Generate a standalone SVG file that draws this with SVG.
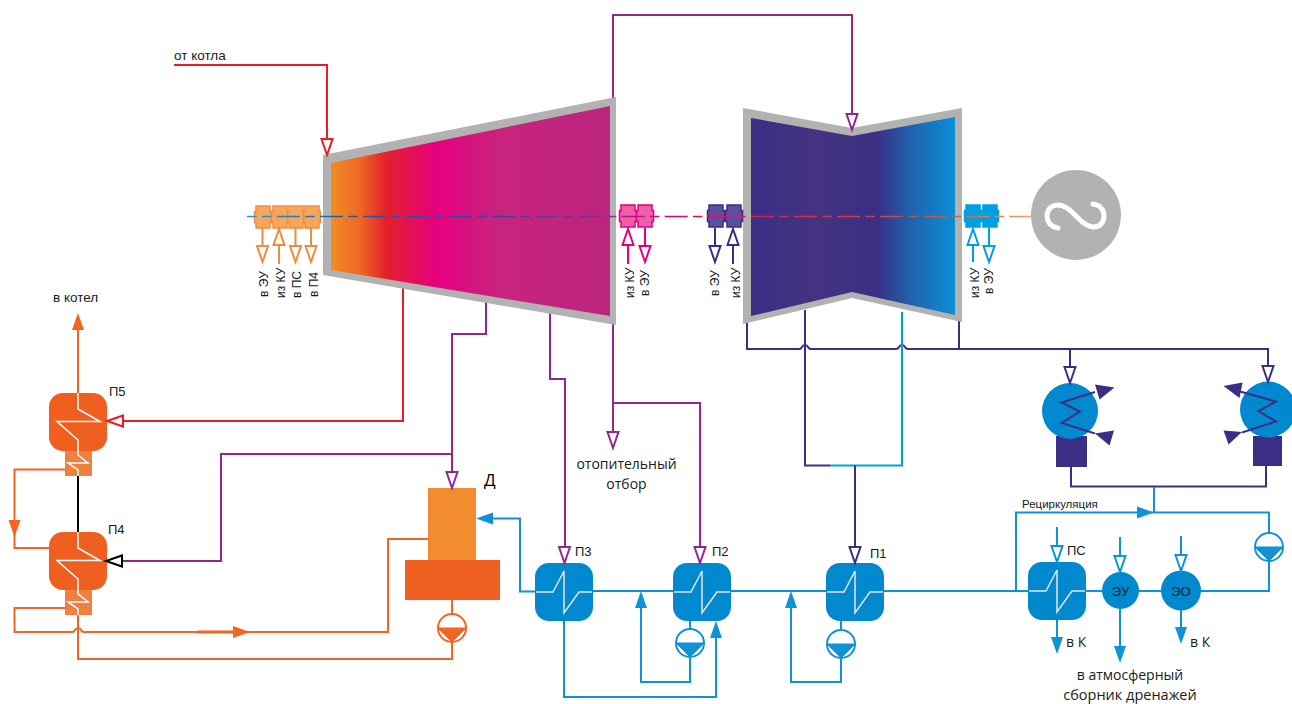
<svg xmlns="http://www.w3.org/2000/svg" xmlns:xlink="http://www.w3.org/1999/xlink" width="1292" height="704" viewBox="0 0 1292 704">
<style>
text{font-family:"Liberation Sans",Arial,sans-serif;font-size:13px;fill:#1a1a1a}
.r{font-size:12px}
.os{font-family:"Open Sans","Noto Sans",sans-serif;font-size:14px}
.l{fill:none;stroke-width:2}
.bl{color:#0f92d6;stroke:#0f92d6}
.pu{color:#93278f;stroke:#93278f}
.or{color:#f26522;stroke:#f26522}
.re{color:#ed1c24;stroke:#ed1c24}
.in{color:#3a2f85;stroke:#3a2f85}
.oa{color:#f08c3c;stroke:#f08c3c}
.ma{color:#e6007e;stroke:#e6007e}
.cy{color:#009fe3;stroke:#009fe3}
.k{color:#000;stroke:#000}
</style>
<defs>
<linearGradient id="hp" gradientUnits="userSpaceOnUse" x1="331" y1="0" x2="610" y2="0">
<stop offset="0" stop-color="#f28c24"/><stop offset=".1" stop-color="#ee6a24"/><stop offset=".2" stop-color="#e3202c"/><stop offset=".38" stop-color="#e6007e"/><stop offset=".6" stop-color="#c8247e"/><stop offset="1" stop-color="#bc247f"/>
</linearGradient>
<linearGradient id="lp" gradientUnits="userSpaceOnUse" x1="751" y1="0" x2="955" y2="0">
<stop offset="0" stop-color="#3a2f85"/><stop offset=".32" stop-color="#443380"/><stop offset=".62" stop-color="#3a2f85"/><stop offset=".78" stop-color="#1f62ac"/><stop offset="1" stop-color="#0a8fd6"/>
</linearGradient>
<linearGradient id="sh" gradientUnits="userSpaceOnUse" x1="247" y1="0" x2="1032" y2="0">
<stop offset="0" stop-color="#1ba0d8"/><stop offset=".12" stop-color="#1b5cb0"/><stop offset=".3" stop-color="#2c46a8"/><stop offset=".46" stop-color="#93278f"/><stop offset=".53" stop-color="#e6007e"/><stop offset=".65" stop-color="#d81c50"/><stop offset=".9" stop-color="#c06040"/><stop offset="1" stop-color="#f4a460"/>
</linearGradient>
<path id="ao" d="M-5.500-16H5.500L0 0Z" fill="#fff" stroke="currentColor" stroke-width="2"/>
<path id="af" d="M-6-17H6L0 0Z" fill="currentColor" stroke="none"/>
<g id="pump"><circle r="14" fill="#fff" stroke="currentColor" stroke-width="2"/><path d="M-14 0H14L0 14Z" fill="currentColor"/></g>
<path id="seal" d="M0-11H14V-5.500H15.500V5.500H14V11H0V5.500H-1.500V-5.500H0Z" stroke-width="1.500"/>
<g id="blhx"><rect width="58" height="58" rx="14" fill="#0089cf"/><path d="M1 29H18L29 8V50L44 29H57" fill="none" stroke="#e6e6e6" stroke-width="1.500"/></g>
<g id="orhx"><rect x="16" y="58" width="27" height="25" fill="#f08040"/><rect width="58" height="58" rx="14" fill="#ee5f20"/><path d="M29 0V16L51 28.500H8L29 47V62L39 70H19L29 77V83" fill="none" stroke="#fff" stroke-width="1.500"/></g>
</defs>

<g id="connectors">
<path class="l re" d="M174 65H327V140"/>
<path class="l pu" d="M613 100V15H852V114"/>
<path class="l re" d="M403 285V421H123"/>
<path class="l pu" d="M486 300V334H452V472"/>
<path class="l pu" d="M452 454H221V561H122"/>
<path class="l pu" d="M550 312V379H565V548"/>
<path class="l pu" d="M613 320V433M613 403H700V548"/>
<path class="l in" d="M747 320V349H799Q801 349 802 347T805 345T808 347T811 349H896Q898 349 899 347T902 345T905 347T908 349H1268V368M959 320V349M1070 349V368"/>
<path class="l in" d="M805 310V465.500H830"/>
<path class="l cy" d="M902 312V465.500H830"/>
<path class="l in" d="M855 465.500V548"/>
<path class="l in" d="M1071 466V486.500H1266V466"/>
<path class="l bl" d="M1154 487V512.500M1016 591V512.500H1269V533M1269 561V591H593"/>
<path class="l bl" d="M535 591.500H520V518.500H490"/>
<path class="l bl" d="M564 620V697H716V634"/>
<path class="l bl" d="M690 620V630M690 657V682H641V606"/>
<path class="l bl" d="M841 620V630M841 657V682H791V606"/>
<path class="l bl" d="M1057 527V547M1120 537V558M1181 536V557M1057 620V640M1120 609V650M1181 610V630"/>
<path class="l or" d="M78 393V328"/>
<path class="l k" d="M78 476V532"/>
<path class="l or" d="M65 469.500H14.500V548H49"/>
<path class="l or" d="M65 608H14.500V632H72Q74 632 75 630T78 628T81 630T84 632H388V539H428"/>
<path class="or" fill="none" stroke-width="3" d="M198 632H236"/>
<path class="l or" d="M78 615V659H452V642M452 600V614"/>
<path class="l oa" d="M262.500 228V247M295.500 228V247M311 228V247M279 244V264"/>
<path class="l ma" d="M628 244V264M645 228V247"/>
<path class="l in" d="M715 228V247M733 244V264"/>
<path class="l cy" d="M973 244V262M989 228V246"/>
</g>

<g id="hp-turbine"><path d="M323 155L616 97V325L323 275Z" fill="#b2b2b2"/><path d="M331 163L610 106V316L331 270Z" fill="url(#hp)"/></g>
<g id="lp-turbine"><path d="M743 108L852 128L962 108V322L852 298L743 324Z" fill="#b2b2b2"/><path d="M751 118L852 136L955 117V315L852 292L751 316Z" fill="url(#lp)"/></g>

<g id="seals-hp-left" fill="#f5a55c" class="oa"><use xlink:href="#seal" x="256" y="217"/><use xlink:href="#seal" x="273" y="217"/><use xlink:href="#seal" x="289" y="217"/><use xlink:href="#seal" x="305" y="217"/></g>
<g id="seals-hp-right" fill="#ee5fa8" class="ma"><use xlink:href="#seal" x="621" y="216"/><use xlink:href="#seal" x="638" y="216"/></g>
<g id="seals-lp-left" fill="#5e4e9e" class="in"><use xlink:href="#seal" x="709" y="216"/><use xlink:href="#seal" x="727" y="216"/></g>
<g id="seals-lp-right" fill="#009fe3" class="cy"><use xlink:href="#seal" x="966" y="216"/><use xlink:href="#seal" x="983" y="216"/></g>
<path id="shaft" d="M247 216.500H1032" fill="none" stroke="url(#sh)" stroke-width="1.500" stroke-dasharray="23 5.300 9.500 5.300" stroke-dashoffset="13.300"/>

<g id="generator"><circle cx="1076" cy="215" r="45" fill="#b2b2b2"/><path d="M1058 228C1050 227 1047 221 1047 216C1047 209 1052 205 1058 205C1072 205 1080 227 1094 227C1100 227 1104 222 1104 216C1104 210 1100 205 1093 204" fill="none" stroke="#fff" stroke-width="5" stroke-linecap="round"/></g>

<g id="P5"><use xlink:href="#orhx" x="49" y="393"/><text x="109" y="396">П5</text></g>
<g id="P4"><use xlink:href="#orhx" x="49" y="532"/><text x="108" y="534">П4</text></g>
<g id="deaerator"><rect x="428" y="488" width="48" height="73" fill="#f28c2e"/><rect x="405" y="560" width="95" height="40" fill="#ee5f20"/><text class="os" x="484" y="486" style="font-size:17px;fill:#000">Д</text></g>
<g id="pump-d" class="or"><use xlink:href="#pump" x="452" y="628"/></g>
<g id="P3"><use xlink:href="#blhx" x="535" y="563"/><text x="575" y="556">П3</text></g>
<g id="P2"><use xlink:href="#blhx" x="673" y="563"/><text x="712" y="556">П2</text></g>
<g id="P1"><use xlink:href="#blhx" x="826" y="563"/><text x="870" y="558">П1</text></g>
<g id="PS"><use xlink:href="#blhx" x="1028" y="562"/><text x="1067" y="555">ПС</text></g>
<g id="EU"><circle cx="1120.500" cy="590.500" r="18.500" fill="#0089cf"/><text x="1120.500" y="595.500" text-anchor="middle">ЭУ</text></g>
<g id="EO"><circle cx="1181" cy="590.500" r="20" fill="#0089cf"/><text x="1181" y="595.500" text-anchor="middle">ЭО</text></g>
<g id="pump-2" class="bl"><use xlink:href="#pump" x="690" y="643"/></g>
<g id="pump-1" class="bl"><use xlink:href="#pump" x="841" y="644"/></g>
<g id="pump-r" class="bl"><use xlink:href="#pump" x="1269" y="547"/></g>

<g id="condenser-1"><rect x="1056" y="436" width="31" height="31" fill="#3a2f85"/><circle cx="1070" cy="411" r="28" fill="#0089cf"/><path d="M1095 392L1061.500 402.500L1080 411.500L1061.500 423L1095 433.500" fill="none" stroke="#3a2f85" stroke-width="2"/><path d="M1095 384.500L1114.500 387.500L1099.500 399.500ZM1095 433.500L1114 430.500L1109.500 445.500Z" fill="#3a2f85"/></g>
<g id="condenser-2"><rect x="1253" y="436" width="29" height="30" fill="#3a2f85"/><circle cx="1268" cy="409.500" r="28" fill="#0089cf"/><path d="M1240 391.500L1276 401.500L1258.500 411L1276 421.500L1242 432.500" fill="none" stroke="#3a2f85" stroke-width="2"/><path d="M1223.500 386L1242.500 382.500L1239.500 398ZM1242 432L1223.500 430.500L1228.500 444.500Z" fill="#3a2f85"/></g>

<g id="arrowheads">
<use xlink:href="#ao" class="re" transform="translate(327 155)"/>
<use xlink:href="#ao" class="pu" transform="translate(852 130)"/>
<use xlink:href="#ao" class="re" transform="translate(107 421) rotate(90)"/>
<use xlink:href="#ao" class="k" transform="translate(106 561) rotate(90)"/>
<use xlink:href="#ao" class="pu" transform="translate(452 488)"/>
<use xlink:href="#ao" class="pu" transform="translate(564.500 563)"/>
<use xlink:href="#ao" class="pu" transform="translate(700 563)"/>
<use xlink:href="#ao" class="pu" transform="translate(613 448)"/>
<use xlink:href="#ao" class="in" transform="translate(855 563)"/>
<use xlink:href="#ao" class="in" transform="translate(1070 383)"/>
<use xlink:href="#ao" class="in" transform="translate(1268 382)"/>
<use xlink:href="#ao" class="oa" transform="translate(262.500 262)"/>
<use xlink:href="#ao" class="oa" transform="translate(279 229) rotate(180)"/>
<use xlink:href="#ao" class="oa" transform="translate(295.500 262)"/>
<use xlink:href="#ao" class="oa" transform="translate(311 262)"/>
<use xlink:href="#ao" class="ma" transform="translate(628 229) rotate(180)"/>
<use xlink:href="#ao" class="ma" transform="translate(645 262)"/>
<use xlink:href="#ao" class="in" transform="translate(715 262)"/>
<use xlink:href="#ao" class="in" transform="translate(733 229) rotate(180)"/>
<use xlink:href="#ao" class="cy" transform="translate(973 229) rotate(180)"/>
<use xlink:href="#ao" class="cy" transform="translate(989 262)"/>
<use xlink:href="#ao" class="bl" transform="translate(1057 562)"/>
<use xlink:href="#ao" class="bl" transform="translate(1120 572)"/>
<use xlink:href="#ao" class="bl" transform="translate(1181 571)"/>
<use xlink:href="#af" class="or" transform="translate(78 313) rotate(180)"/>
<use xlink:href="#af" class="or" transform="translate(14.500 537)"/>
<use xlink:href="#af" class="or" transform="translate(250 632) rotate(-90)"/>
<use xlink:href="#af" class="bl" transform="translate(476 518.500) rotate(90)"/>
<use xlink:href="#af" class="bl" transform="translate(716 621) rotate(180)"/>
<use xlink:href="#af" class="bl" transform="translate(641 591) rotate(180)"/>
<use xlink:href="#af" class="bl" transform="translate(791 591) rotate(180)"/>
<use xlink:href="#af" class="bl" transform="translate(1154 512.500) rotate(-90)"/>
<use xlink:href="#af" class="bl" transform="translate(1057 654)"/>
<use xlink:href="#af" class="bl" transform="translate(1120 663)"/>
<use xlink:href="#af" class="bl" transform="translate(1181 644)"/>
</g>

<g id="labels">
<text x="174" y="60" style="font-size:13.500px">от котла</text>
<text x="53" y="302" style="font-size:13.500px">в котел</text>
<text class="os" x="626.500" y="469" text-anchor="middle">отопительный</text>
<text class="os" x="626.500" y="489" text-anchor="middle">отбор</text>
<text class="os" x="1130" y="680" text-anchor="middle">в атмосферный</text>
<text class="os" x="1130" y="700" text-anchor="middle" style="font-size:14.500px">сборник дренажей</text>
<text class="os" x="1066" y="647">в К</text>
<text class="os" x="1190" y="647">в К</text>
<text x="1022" y="508" style="font-size:11.500px">Рециркуляция</text>
<text class="r" transform="translate(268 297) rotate(-90)">в ЭУ</text>
<text class="r" transform="translate(285 298) rotate(-90)">из КУ</text>
<text class="r" transform="translate(301 298) rotate(-90)">в ПС</text>
<text class="r" transform="translate(317.500 297) rotate(-90)">в П4</text>
<text class="r" transform="translate(633.500 298) rotate(-90)">из КУ</text>
<text class="r" transform="translate(649 296) rotate(-90)">в ЭУ</text>
<text class="r" transform="translate(718.500 296) rotate(-90)">в ЭУ</text>
<text class="r" transform="translate(739.500 298) rotate(-90)">из КУ</text>
<text class="r" transform="translate(978.500 298) rotate(-90)">из КУ</text>
<text class="r" transform="translate(993 294) rotate(-90)">в ЭУ</text>
</g>
</svg>
